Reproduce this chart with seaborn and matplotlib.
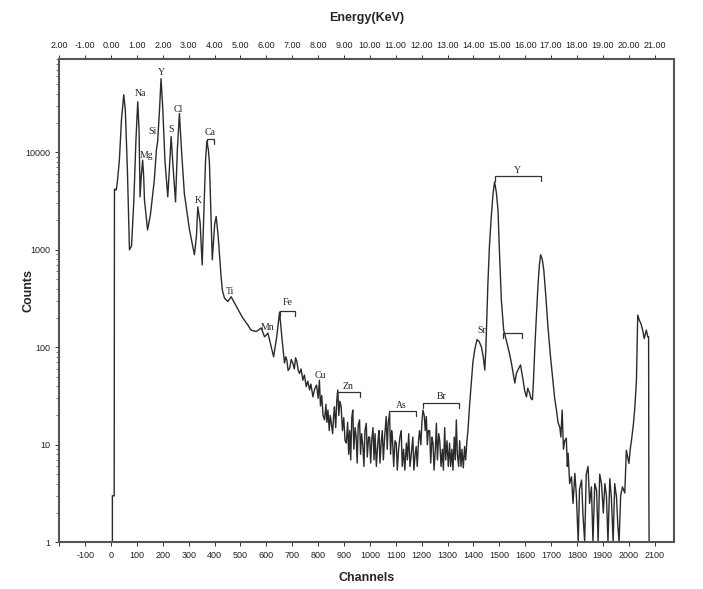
import matplotlib
matplotlib.use("Agg")
import matplotlib.pyplot as plt
import seaborn as sns
import numpy as np
from matplotlib.ticker import LogLocator, NullFormatter

sns.set_style("ticks")
plt.rcParams['font.family'] = ['Liberation Sans', 'DejaVu Sans']

# spectrum (channel, counts)
channels = [
    5, 5, 12, 13, 20, 25, 32, 40, 49, 55, 63, 71, 79, 88, 96, 103, 108, 112, 117, 122,
    126, 129, 141, 152, 167, 175, 180, 187, 193, 200, 208, 219, 225, 232, 239, 249, 256, 264, 272, 283,
    303, 322, 330, 335, 344, 352, 359, 365, 370, 376, 380, 391, 400, 406, 414, 425, 430, 438, 451, 464,
    477, 496, 509, 528, 541, 561, 580, 593, 606, 619, 628, 640, 651, 661, 670, 675, 679, 684, 690, 696,
    702, 708, 713, 718, 723, 728, 734, 741, 747, 754, 760, 767, 772, 780, 786, 794, 800, 805, 809, 814,
    819, 825, 830, 834, 838, 843, 847, 851, 856, 860, 863, 868, 872, 876, 880, 884, 889, 894, 899, 904,
    909, 914, 918, 922, 926, 930, 934, 938, 943, 947, 951, 955, 960, 964, 968, 973, 977, 981, 986, 990,
    995, 999, 1003, 1007, 1012, 1016, 1020, 1025, 1031, 1035, 1039, 1044, 1048, 1052, 1057, 1063, 1067, 1071, 1076, 1080,
    1084, 1087, 1092, 1097, 1102, 1106, 1111, 1116, 1121, 1125, 1130, 1135, 1141, 1145, 1150, 1155, 1160, 1166, 1170, 1175,
    1179, 1183, 1188, 1192, 1197, 1201, 1205, 1210, 1214, 1218, 1222, 1226, 1231, 1235, 1240, 1244, 1248, 1253, 1257, 1261,
    1266, 1270, 1275, 1280, 1284, 1289, 1293, 1298, 1303, 1308, 1312, 1317, 1321, 1326, 1330, 1334, 1338, 1343, 1347, 1352,
    1356, 1361, 1366, 1370, 1375, 1379, 1385, 1392, 1398, 1405, 1414, 1422, 1431, 1438, 1444, 1448, 1452, 1456, 1462, 1469,
    1476, 1482, 1489, 1495, 1501, 1508, 1517, 1530, 1540, 1547, 1553, 1560, 1566, 1574, 1582, 1587, 1592, 1598, 1605, 1610,
    1617, 1622, 1628, 1632, 1637, 1643, 1650, 1655, 1660, 1666, 1672, 1680, 1688, 1698, 1708, 1714, 1721, 1727, 1734, 1738,
    1743, 1748, 1753, 1759, 1763, 1766, 1772, 1779, 1785, 1792, 1798, 1805, 1810, 1818, 1823, 1830, 1836, 1843, 1849, 1856,
    1862, 1869, 1876, 1882, 1888, 1895, 1902, 1908, 1914, 1920, 1927, 1933, 1940, 1946, 1953, 1958, 1963, 1969, 1976, 1985,
    1991, 2001, 2006, 2011, 2018, 2024, 2030, 2033, 2035, 2041, 2047, 2054, 2060, 2068, 2074, 2077, 2078, 2079,
]
counts = [
    1, 3, 3, 4200, 4100, 5200, 8300, 21500, 39000, 27000, 6600, 1000, 1100, 3240, 13400, 33000, 17000, 3500, 5900, 8300,
    5600, 3240, 1600, 2300, 5200, 10500, 13000, 27000, 57000, 27000, 8300, 3500, 6600, 14500, 7400, 3100, 10600, 25000, 10600, 3800,
    1600, 890, 1400, 2760, 1900, 700, 2560, 8300, 13000, 10600, 7800, 790, 1800, 2200, 1360, 530, 385, 320, 295, 330,
    285, 230, 200, 170, 150, 145, 158, 128, 140, 101, 80, 128, 230, 118, 69, 80, 74, 58, 61, 75,
    69, 60, 78, 71, 58, 54, 60, 46, 52, 39.5, 45, 36.5, 42, 31, 37, 41, 30, 46, 25, 32,
    20, 18, 26, 17, 22.7, 14, 20, 16.7, 13, 20, 24.5, 15, 28, 36.5, 20, 28, 24.5, 14, 19, 11,
    10.4, 17, 8, 14, 7, 19, 22.7, 9, 15, 12, 6.5, 16, 18, 8, 13, 9.6, 6, 14, 16.6, 7.5,
    12, 12, 6.5, 11, 15, 7, 13, 6, 10.8, 14, 6.5, 11, 14, 7, 12, 19.5, 9, 17, 21, 8,
    14, 12, 6, 11, 10.4, 5.5, 9, 12, 14, 6, 9, 5.5, 10.4, 7, 13, 6, 8, 12, 5.5, 8,
    9.6, 6, 11, 14, 10, 17, 22.7, 20, 14, 19.5, 10, 14, 14, 6.5, 12, 10.4, 5.5, 9, 16.6, 7,
    13, 11, 6, 9, 5.5, 15, 7, 11, 6, 10.4, 6, 9, 5.5, 12, 7, 18, 8, 6, 11, 6,
    9, 5.8, 9.6, 7, 11, 14, 25, 43, 70, 94, 120, 115, 101, 80, 58.5, 94, 200, 453, 1100, 2170,
    3800, 5000, 3800, 2570, 900, 305, 150, 110, 85, 68.6, 55, 43, 54, 60, 66, 55, 46, 36, 31, 38,
    34, 30, 29, 45, 94, 200, 453, 700, 890, 800, 620, 330, 163, 80, 43, 30, 22.7, 17, 15, 12,
    22.7, 9, 11, 11.7, 6, 8.2, 4, 4.7, 2.5, 5.1, 3, 1, 3.5, 4.35, 2, 1, 5, 6, 2.5, 3.7,
    1, 4, 3.4, 1, 5, 4, 2, 4, 3, 1, 4.5, 2.9, 1, 4, 2.9, 1.5, 1, 3, 3.7, 3.2,
    8.8, 6.45, 9, 11.2, 16, 24.6, 46, 120, 214, 190, 176, 150, 123, 150, 128, 128, 3, 1,
]

# element labels (text, channel, counts)
elements = ['Na', 'Mg', 'Si', 'Y', 'S', 'Cl', 'K', 'Ca', 'Ti', 'Mn', 'Fe', 'Cu', 'Zn', 'As', 'Br', 'Sr', 'Y']
elem_ch = [113, 137, 160, 195, 233, 258, 336, 384, 461, 604, 682, 809, 914, 1123, 1277, 1432, 1571]
elem_counts = [40500, 9200, 16500, 66000, 17000, 27800, 3170, 15900, 378, 158, 285, 52, 40, 25.6, 31, 150, 6500]

# brackets under/over labels (start channel, end channel, counts level)
br_start = [372, 651, 872, 1074, 1205, 1514, 1482]
br_end = [398, 710, 963, 1177, 1344, 1586, 1663]
br_level = [13700, 237, 35, 22.4, 26.7, 141, 5700]

x_ticks = list(range(-200, 2101, 100))
x_labels = [''] + [str(v) for v in range(-100, 2101, 100)]
energy_ticks = list(range(-2, 22))
energy_labels = ['2.00'] + ['%.2f' % e for e in range(-1, 22)]
y_ticks = [1, 10, 100, 1000, 10000]
y_labels = ['1', '10', '100', '1000', '10000']

fig = plt.figure(figsize=(7.03, 5.89), dpi=100)
ax = fig.add_axes([0.0844, 0.0793, 0.8743, 0.82])

sns.lineplot(x=channels, y=counts, ax=ax, estimator=None, sort=False,
             color='#2b2b2b', linewidth=1.0)

ax.set_yscale('log')
ax.set_ylim(1, 9e4)
ax.set_xlim(-200, 2175)

for name, c, n in zip(elements, elem_ch, elem_counts):
    ax.text(c, n, name, ha='center', va='center', fontsize=7,
            family='Liberation Serif', color='#222222')

for x0, x1, lv in zip(br_start, br_end, br_level):
    ax.plot([x0, x0, x1, x1], [lv * 0.89, lv, lv, lv * 0.89], color='#333333', linewidth=0.9)

ax.set_xticks(x_ticks)
ax.set_xticklabels(x_labels)
ax.set_yticks(y_ticks)
ax.set_yticklabels(y_labels)
ax.yaxis.set_minor_locator(LogLocator(base=10, subs=np.arange(2, 10)))
ax.yaxis.set_minor_formatter(NullFormatter())
ax.tick_params(axis='both', which='major', labelsize=6.5, length=3, width=0.7,
               direction='out', colors='#333333', labelcolor='#222222')
ax.tick_params(axis='y', which='minor', length=2, width=0.6, colors='#555555')

sec = ax.secondary_xaxis('top', functions=(lambda c: np.asarray(c) / 100.0,
                                          lambda e: np.asarray(e) * 100.0))
sec.set_xticks(energy_ticks)
sec.set_xticklabels(energy_labels)
sec.tick_params(labelsize=6.5, length=3, width=0.7, colors='#333333', labelcolor='#222222')
sec.spines['top'].set_visible(False)

for s in ax.spines.values():
    s.set_linewidth(1.5)
    s.set_color('#555555')

fig.text(0.522, 0.969, 'Energy(KeV)', ha='center', va='center', fontsize=9, fontweight='bold')
fig.text(0.522, 0.019, 'Channels', ha='center', va='center', fontsize=9, fontweight='bold')
fig.text(0.040, 0.507, 'Counts', ha='center', va='center', rotation=90, fontsize=9, fontweight='bold')

fig.savefig('out.png', dpi=100, facecolor='white')
